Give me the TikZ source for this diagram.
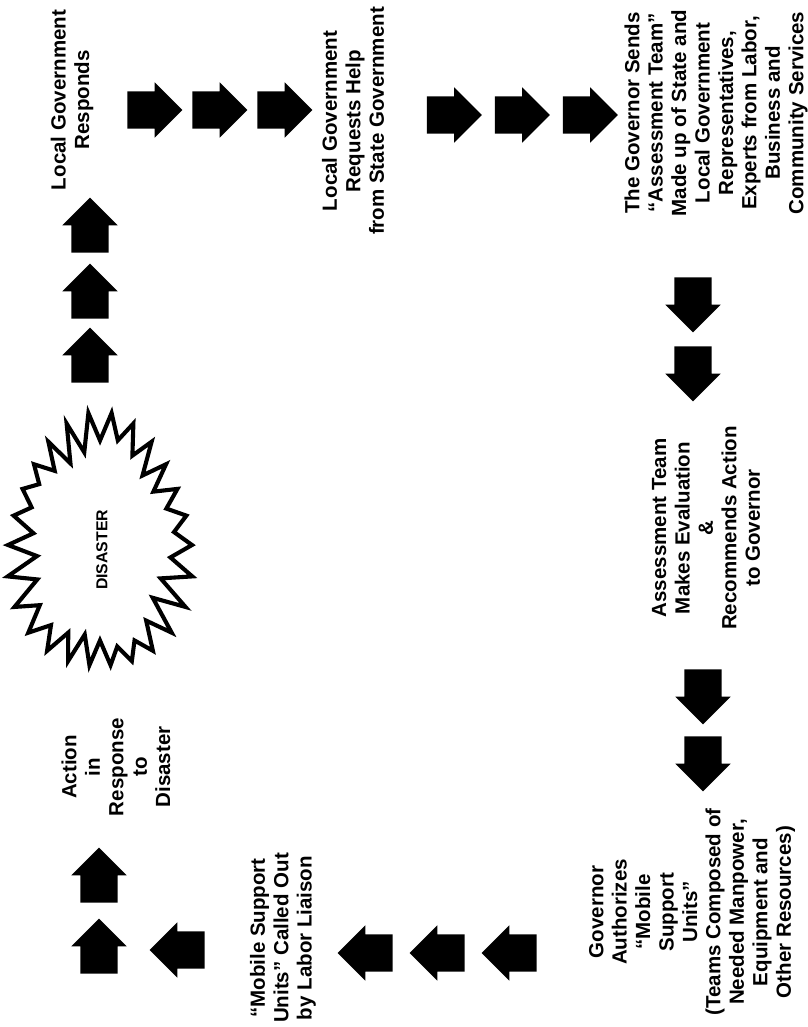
\documentclass[tikz,border=0pt]{standalone}
\usepackage{fontspec}
\setmainfont{Liberation Sans}
\usetikzlibrary{shapes.arrows}

\tikzset{
  stage/.style={rotate=90, align=center, inner sep=0pt,
    font=\bfseries\fontsize{17.5}{20}\selectfont},
  fat arrow/.style={single arrow, fill=black, draw=none,
    inner xsep=0pt, inner ysep=0.555cm, minimum height=1.65cm,
    single arrow head extend=0.27cm, single arrow tip angle=90},
  burst/.style={line width=3.5pt, line join=miter, fill=white}
}

\begin{document}
\begin{tikzpicture}[x=0.03cm, y=-0.03cm]
            \useasboundingbox (0,0) rectangle (808,1027);

            % the disaster star
            \begin{scope}[shift={(100,545)}]
            \draw[burst] (92,0)
              \foreach \k [evaluate=\k as \a using {\k*360/26},
                           evaluate=\k as \f using {1+0.05*sin(3*\a)},
                           evaluate=\k as \g using {1+0.08*cos(5*\a)}]
                in {1,...,26} {-- ({69*\g*cos(\a-6.9)},{100*\g*sin(\a-6.9)}) -- ({92*\f*cos(\a)},{127*\f*sin(\a)})} -- cycle;
            \end{scope}
            \node[rotate=90, inner sep=0pt, font=\bfseries\fontsize{13.5}{13.5}\selectfont] (disaster) at (102,550) {DISASTER};

            \node[stage] (responds) at (72,100) {Local Government\\Responds};
            \node[stage] (requests) at (353,121) {Local Government\\Requests Help\\from State Government};
            \node[stage] (sends) at (716,113) {The Governor Sends\\“Assessment Team”\\Made up of State and\\Local Government\\Representatives,\\Experts from Labor,\\Business and\\Community Services};
            \node[stage] (evaluates) at (706,528) {Assessment Team\\Makes Evaluation\\\&\\Recommends Action\\to Governor};
            \node[stage] (authorizes) at (692,912) {Governor\\Authorizes\\“Mobile\\Support\\Units”\\(Teams Composed of\\Needed Manpower,\\Equipment and\\Other Resources)};
            \node[stage] (calledout) at (283,938) {“Mobile Support\\Units” Called Out\\by Labor Liaison};
            \node[stage] (action) at (116,767) {Action\\in\\Response\\to\\Disaster};

            % arrows
            \foreach \y [count=\i] in {234.5,300.5,364.5}
              \node[fat arrow, rotate=90] (up\i) at (90,\y) {};
            \foreach \x [count=\i] in {145.5,210.5,275.5}
              \node[fat arrow] (ra\i) at (\x,110) {};
            \foreach \x [count=\i] in {445,513,581}
              \node[fat arrow] (rb\i) at (\x,115) {};
            \foreach \y [count=\i] in {295.5,364.5}
              \node[fat arrow, rotate=-90] (da\i) at (693,\y) {};
            \foreach \y [count=\i] in {687.5,754.5}
              \node[fat arrow, rotate=-90] (db\i) at (703,\y) {};
            \foreach \x [count=\i] in {374.5,446.5,518.5}
              \node[fat arrow, rotate=180] (la\i) at (\x,953) {};
            \node[fat arrow, rotate=180] (lb) at (186.5,950) {};
            \foreach \y [count=\i] in {884.5,955.5}
              \node[fat arrow, rotate=90] (ua\i) at (99,\y) {};
\end{tikzpicture}
\end{document}
